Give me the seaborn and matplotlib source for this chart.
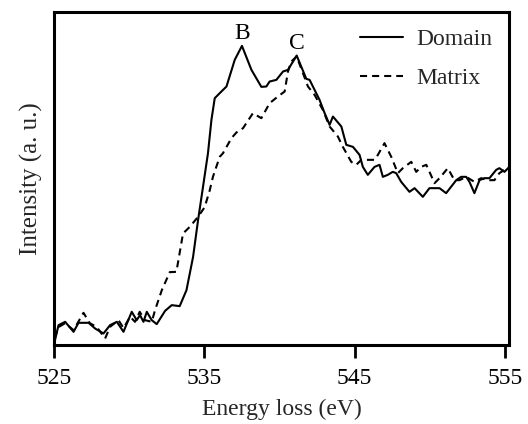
import numpy as np
import pandas as pd
import matplotlib
matplotlib.use("Agg")
import matplotlib.pyplot as plt
import seaborn as sns

# O K-edge EELS spectra (energy loss in eV, intensity in arbitrary units)
domain_energy = [
    525.05, 525.31, 525.75, 526.31, 526.64, 527.31, 527.74, 528.30, 528.74, 529.19,
    529.63, 530.18, 530.51, 530.73, 530.96, 531.18, 531.51, 531.84, 532.40, 532.84,
    533.37, 533.82, 534.26, 534.59, 534.92, 535.25, 535.48, 535.70, 536.03, 536.48,
    537.03, 537.51, 538.14, 538.80, 539.13, 539.35, 539.80, 540.24, 540.57, 541.15,
    541.79, 542.01, 542.34, 542.67, 543.01, 543.34, 543.56, 544.12, 544.45, 544.89,
    545.33, 545.55, 545.88, 546.33, 546.66, 546.88, 547.21, 547.54, 547.77, 548.10,
    548.65, 548.99, 549.54, 549.98, 550.65, 551.09, 551.76, 552.09, 552.42, 552.64,
    552.97, 553.31, 553.64, 553.97, 554.42, 554.63, 554.97, 555.30,
]
domain_intensity = [
    0.010, 0.060, 0.070, 0.040, 0.067, 0.067, 0.050, 0.035, 0.060, 0.070,
    0.040, 0.100, 0.075, 0.090, 0.070, 0.100, 0.075, 0.063, 0.103, 0.120,
    0.117, 0.165, 0.265, 0.375, 0.475, 0.576, 0.676, 0.741, 0.756, 0.776,
    0.856, 0.898, 0.826, 0.775, 0.776, 0.791, 0.796, 0.821, 0.826, 0.869,
    0.799, 0.796, 0.766, 0.736, 0.696, 0.661, 0.686, 0.656, 0.601, 0.595,
    0.571, 0.535, 0.511, 0.535, 0.541, 0.505, 0.511, 0.520, 0.516, 0.490,
    0.460, 0.471, 0.445, 0.471, 0.471, 0.456, 0.495, 0.505, 0.505, 0.490,
    0.456, 0.495, 0.501, 0.501, 0.526, 0.531, 0.520, 0.535,
]

matrix_energy = [
    525.05, 525.31, 525.75, 526.31, 526.97, 527.39, 527.86, 528.41, 528.74, 529.30,
    529.63, 530.07, 530.40, 530.71, 531.05, 531.51, 531.73, 532.18, 532.71, 533.15,
    533.59, 534.04, 534.59, 535.03, 535.37, 535.58, 536.03, 536.25, 536.81, 537.14,
    537.58, 538.24, 538.80, 539.35, 539.90, 540.35, 540.57, 540.79, 541.15, 541.90,
    542.34, 542.89, 543.34, 543.89, 544.22, 544.78, 545.11, 545.45, 546.00, 546.33,
    546.55, 546.99, 547.44, 547.88, 548.21, 548.77, 549.10, 549.43, 549.77, 550.32,
    550.65, 551.20, 551.64, 551.98, 552.42, 552.97, 553.42, 553.86, 554.30, 554.63,
    554.97, 555.30,
]
matrix_intensity = [
    0.021, 0.054, 0.066, 0.045, 0.097, 0.066, 0.054, 0.020, 0.055, 0.075,
    0.051, 0.085, 0.070, 0.100, 0.075, 0.070, 0.105, 0.165, 0.219, 0.220,
    0.335, 0.355, 0.385, 0.414, 0.465, 0.505, 0.565, 0.576, 0.621, 0.638,
    0.651, 0.696, 0.681, 0.726, 0.746, 0.761, 0.821, 0.851, 0.866, 0.776,
    0.751, 0.706, 0.656, 0.626, 0.595, 0.550, 0.541, 0.556, 0.556, 0.556,
    0.571, 0.606, 0.565, 0.516, 0.531, 0.550, 0.520, 0.535, 0.541, 0.486,
    0.501, 0.531, 0.495, 0.495, 0.505, 0.490, 0.501, 0.495, 0.495, 0.516,
    0.526, 0.535,
]

series_names = ["Domain", "Matrix"]
peak_labels = ["B", "C"]
peak_energies = [537.51, 541.15]
x_ticks = [525, 535, 545, 555]

df = pd.concat([
    pd.DataFrame({"Energy": domain_energy, "Intensity": domain_intensity, "Sample": series_names[0]}),
    pd.DataFrame({"Energy": matrix_energy, "Intensity": matrix_intensity, "Sample": series_names[1]}),
], ignore_index=True)

sns.set_style("ticks")
plt.rcParams["font.family"] = ["Liberation Serif", "DejaVu Serif"]

fig = plt.figure(figsize=(5.28, 4.24), dpi=100)
ax = fig.add_axes([0.102, 0.186, 0.862, 0.786])

sns.lineplot(
    data=df, x="Energy", y="Intensity", style="Sample",
    dashes={"Domain": "", "Matrix": (3.4, 2.4)},
    color="black", linewidth=1.5, sort=False, estimator=None, ax=ax,
)

# peak labels above the Domain maxima
for lab, e in zip(peak_labels, peak_energies):
    idx = int(np.argmin(np.abs(np.array(domain_energy) - e)))
    ax.text(e, domain_intensity[idx] + 0.037, lab, ha="center", va="center",
            fontsize=17, color="black")

ax.set_xlim(525, 555.27)
ax.set_ylim(0, 1)
ax.set_xticks(x_ticks)
ax.set_xticklabels([str(t) for t in x_ticks], fontsize=17)
ax.set_yticks([])
ax.tick_params(axis="x", direction="out", length=9.6, width=2.0, pad=7, colors="black")
for sp in ax.spines.values():
    sp.set_visible(True)
    sp.set_linewidth(2.2)
    sp.set_color("black")

ax.set_xlabel("Energy loss (eV)", fontsize=17, labelpad=7)
ax.set_ylabel("Intensity (a. u.)", fontsize=18, labelpad=8)

leg = ax.legend(
    loc="upper left", bbox_to_anchor=(0.672, 0.95), frameon=False,
    fontsize=17, handlelength=1.85, handletextpad=0.55, labelspacing=0.75,
    borderpad=0, borderaxespad=0,
)
for h in leg.get_lines():
    h.set_linewidth(1.5)
    h.set_color("black")

fig.savefig("out.png", dpi=100)
